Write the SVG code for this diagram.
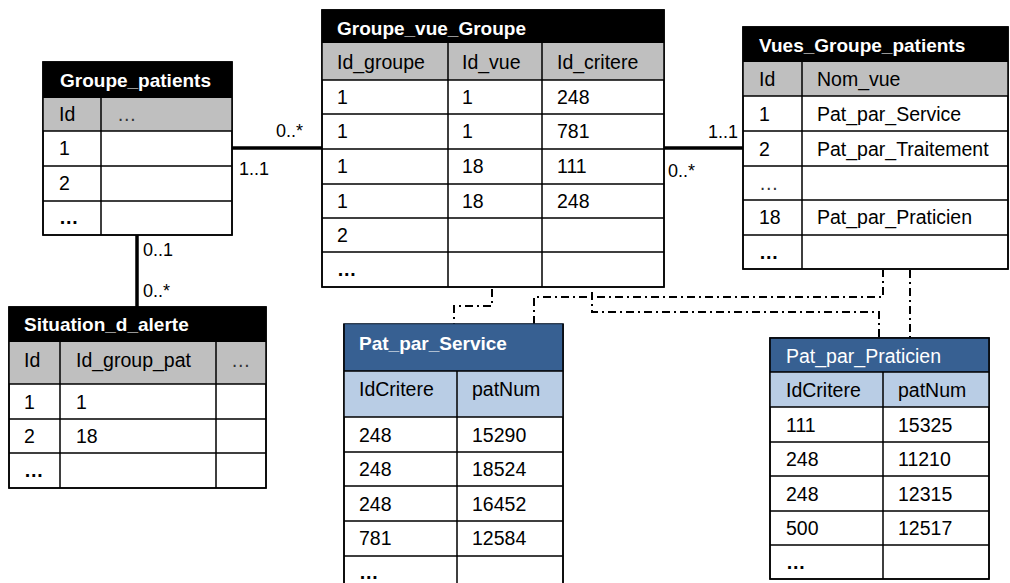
<svg xmlns="http://www.w3.org/2000/svg" width="1010" height="583" viewBox="0 0 1010 583">
<style>
text{font-family:"Liberation Sans",Arial,sans-serif;font-size:19.5px;fill:#000}
.t{font-weight:bold;fill:#fff;font-size:19px}
.tw{fill:#fff}
.b{font-weight:bold}
.g{fill:#333}
.cell{fill:#fff;stroke:#000;stroke-width:1.5}
.ttl{fill:#000}
.hdr{fill:#bfbfbf}
.bt{fill:#376092;stroke:#243f60;stroke-width:1}
.bh{fill:#b9cde5}
.ln{stroke:#000;stroke-width:1.5;fill:none}
.conn{stroke:#000;stroke-width:3.5;fill:none}
.dd{stroke:#000;stroke-width:2;fill:none;stroke-dasharray:8 4 2 4}
.lbl{font-size:18px}
</style>

<g id="connectors">
<line class="conn" x1="232" y1="148" x2="322" y2="148"/>
<line class="conn" x1="664" y1="148" x2="743" y2="148"/>
<line class="conn" x1="137" y1="235" x2="137" y2="307"/>
<path class="dd" d="M492,289 V306 H454 V324"/>
<path class="dd" d="M534,324 V297 H883 V270"/>
<path class="dd" d="M592,292 V312 H879 V338"/>
<path class="dd" d="M910,270 V338"/>
<text class="lbl" x="276" y="137">0..*</text>
<text class="lbl" x="239" y="175">1..1</text>
<text class="lbl" x="738" y="138" text-anchor="end">1..1</text>
<text class="lbl" x="668" y="177">0..*</text>
<text class="lbl" x="143" y="256">0..1</text>
<text class="lbl" x="143" y="297">0..*</text>
</g>

<g id="Groupe_patients">
<rect class="cell" x="43" y="62" width="189" height="173"/>
<rect class="ttl" x="43" y="62" width="189" height="36"/>
<rect class="hdr" x="43" y="98" width="189" height="33"/>
<path class="ln" d="M43,131 H232 M43,166 H232 M43,201 H232 M101,98 V235"/>
<rect class="ln" x="43" y="62" width="189" height="173"/>
<text class="t" x="60" y="87">Groupe_patients</text>
<text x="59" y="121">Id</text>
<text class="g" x="117" y="121">…</text>
<text x="59" y="155">1</text>
<text x="59" y="190">2</text>
<text class="b" x="59" y="224">…</text>
</g>

<g id="Situation_d_alerte">
<rect class="cell" x="9" y="307" width="257" height="181"/>
<rect class="ttl" x="9" y="307" width="257" height="35"/>
<rect class="hdr" x="9" y="342" width="257" height="42"/>
<path class="ln" d="M9,384 H266 M9,419 H266 M9,453 H266 M60,342 V488 M216,342 V488"/>
<rect class="ln" x="9" y="307" width="257" height="181"/>
<text class="t" x="24" y="331">Situation_d_alerte</text>
<text x="24" y="367">Id</text>
<text x="76" y="367">Id_group_pat</text>
<text class="g" x="231" y="367">…</text>
<text x="24" y="409">1</text><text x="76" y="409">1</text>
<text x="24" y="443">2</text><text x="76" y="443">18</text>
<text class="b" x="24" y="477">…</text>
</g>

<g id="Groupe_vue_Groupe">
<rect class="cell" x="322" y="10" width="342" height="277"/>
<rect class="ttl" x="322" y="10" width="342" height="33"/>
<rect class="hdr" x="322" y="43" width="342" height="37"/>
<path class="ln" d="M322,80 H664 M322,114 H664 M322,149 H664 M322,184 H664 M322,218 H664 M322,252 H664 M448,43 V287 M542,43 V287"/>
<rect class="ln" x="322" y="10" width="342" height="277"/>
<text class="t" x="337" y="35">Groupe_vue_Groupe</text>
<text x="337" y="69">Id_groupe</text>
<text x="462" y="69">Id_vue</text>
<text x="557" y="69">Id_critere</text>
<text x="337" y="104">1</text><text x="462" y="104">1</text><text x="557" y="104">248</text>
<text x="337" y="138">1</text><text x="462" y="138">1</text><text x="557" y="138">781</text>
<text x="337" y="173">1</text><text x="462" y="173">18</text><text x="557" y="173">111</text>
<text x="337" y="208">1</text><text x="462" y="208">18</text><text x="557" y="208">248</text>
<text x="337" y="242">2</text>
<text class="b" x="337" y="276">…</text>
</g>

<g id="Vues_Groupe_patients">
<rect class="cell" x="743" y="27" width="265" height="242"/>
<rect class="ttl" x="743" y="27" width="265" height="35"/>
<rect class="hdr" x="743" y="62" width="265" height="34"/>
<path class="ln" d="M743,96 H1008 M743,131 H1008 M743,166 H1008 M743,200 H1008 M743,235 H1008 M802,62 V269"/>
<rect class="ln" x="743" y="27" width="265" height="242"/>
<text class="t" x="759" y="52">Vues_Groupe_patients</text>
<text x="759" y="86">Id</text>
<text x="817" y="86">Nom_vue</text>
<text x="759" y="121">1</text><text x="817" y="121">Pat_par_Service</text>
<text x="759" y="156">2</text><text x="817" y="156">Pat_par_Traitement</text>
<text class="g" x="759" y="190">…</text>
<text x="759" y="224">18</text><text x="817" y="224">Pat_par_Praticien</text>
<text class="b" x="759" y="259">…</text>
</g>

<g id="Pat_par_Service">
<rect class="cell" x="344" y="324" width="219" height="262"/>
<rect class="bt" x="344" y="324" width="219" height="47"/>
<rect class="bh" x="344" y="371" width="219" height="46"/>
<path class="ln" d="M344,371 H563 M344,417 H563 M344,452 H563 M344,486 H563 M344,521 H563 M344,556 H563 M457,371 V586 M344,324 V586 M563,324 V586"/>
<text class="t" x="359" y="350">Pat_par_Service</text>
<text x="359" y="396">IdCritere</text>
<text x="472" y="396">patNum</text>
<text x="359" y="442">248</text><text x="472" y="442">15290</text>
<text x="359" y="476">248</text><text x="472" y="476">18524</text>
<text x="359" y="511">248</text><text x="472" y="511">16452</text>
<text x="359" y="545">781</text><text x="472" y="545">12584</text>
<text class="b" x="359" y="579">…</text>
</g>

<g id="Pat_par_Praticien">
<rect class="cell" x="770" y="338" width="219" height="241"/>
<rect class="bt" x="770" y="338" width="219" height="34"/>
<rect class="bh" x="770" y="372" width="219" height="35"/>
<path class="ln" d="M770,372 H989 M770,407 H989 M770,442 H989 M770,476 H989 M770,511 H989 M770,545 H989 M883,372 V579"/>
<rect class="ln" x="770" y="338" width="219" height="241"/>
<text class="tw" x="786" y="363">Pat_par_Praticien</text>
<text x="786" y="397">IdCritere</text>
<text x="898" y="397">patNum</text>
<text x="786" y="432">111</text><text x="898" y="432">15325</text>
<text x="786" y="466">248</text><text x="898" y="466">11210</text>
<text x="786" y="501">248</text><text x="898" y="501">12315</text>
<text x="786" y="535">500</text><text x="898" y="535">12517</text>
<text class="b" x="786" y="569">…</text>
</g>
</svg>
